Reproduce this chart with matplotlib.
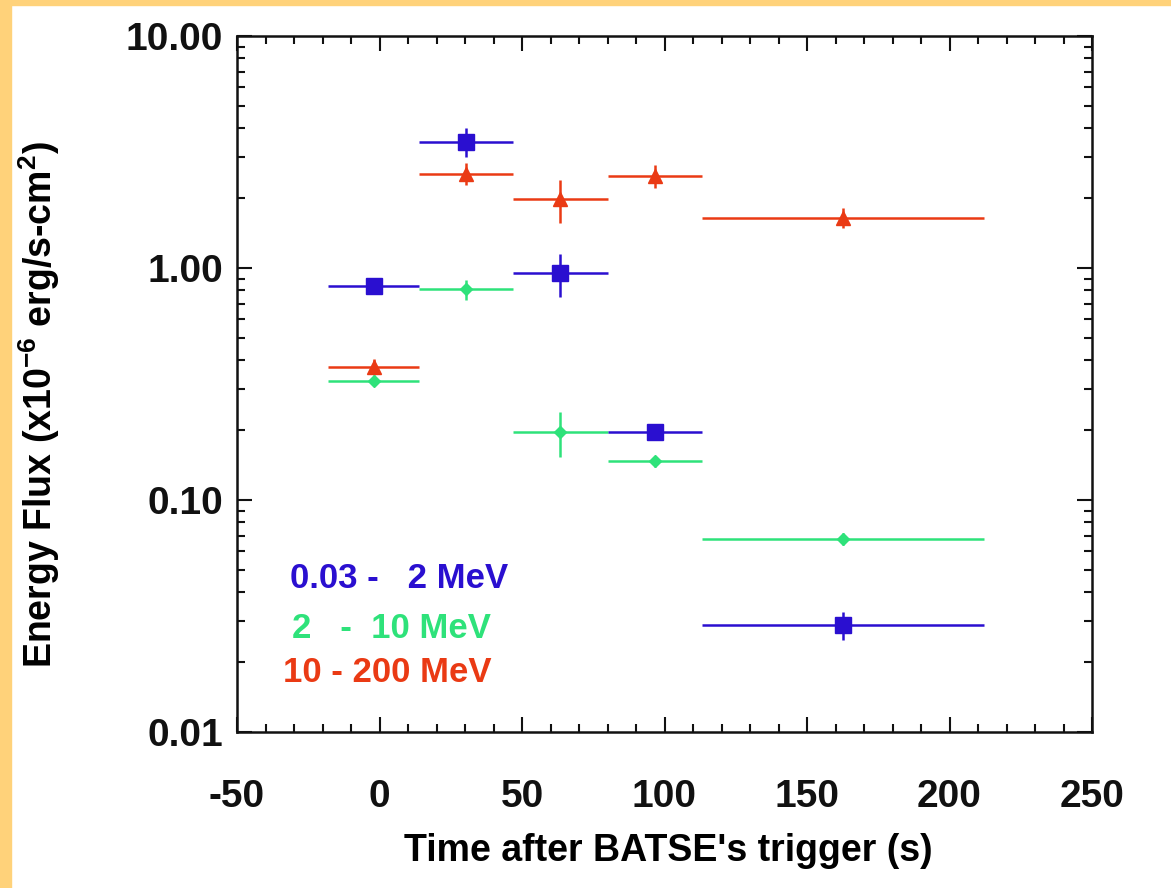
import matplotlib
matplotlib.use("Agg")
import matplotlib.pyplot as plt
from matplotlib.patches import Rectangle
from matplotlib.ticker import FixedLocator, LogLocator, MultipleLocator, FormatStrFormatter, NullFormatter

plt.rcParams['font.family'] = ['Liberation Sans', 'DejaVu Sans']
plt.rcParams['font.weight'] = 'bold'
plt.rcParams['axes.labelweight'] = 'bold'
plt.rcParams['mathtext.fontset'] = 'custom'
plt.rcParams['mathtext.rm'] = 'Liberation Sans:bold'
plt.rcParams['mathtext.it'] = 'Liberation Sans:bold'
plt.rcParams['axes.unicode_minus'] = False

# time bins (s after trigger)
t_lo = [-18, 14, 47, 80, 113]
t_hi = [14, 47, 80, 113, 212]

# energy flux, 1e-6 erg/s-cm^2
flux_low = [0.84, 3.5, 0.95, 0.196, 0.029]      # 0.03 - 2 MeV
err_low = [0.05, 0.5, 0.2, 0.012, 0.004]
flux_mid = [0.326, 0.81, 0.196, 0.147, 0.068]   # 2 - 10 MeV
err_mid = [0.015, 0.08, 0.043, 0.008, 0.004]
flux_high = [0.375, 2.55, 1.98, 2.5, 1.65]      # 10 - 200 MeV
err_high = [0.03, 0.28, 0.42, 0.28, 0.17]

labels = ["0.03 -   2 MeV", "2   -  10 MeV", "10 - 200 MeV"]
label_pos = [(-31.5, 0.046), (-30.8, 0.028), (-33.8, 0.018)]

c_blue = "#2a0fd0"
c_green = "#2ee27a"
c_red = "#ea3a14"

t_mid = [(a + b) / 2 for a, b in zip(t_lo, t_hi)]
t_err = [(b - a) / 2 for a, b in zip(t_lo, t_hi)]

fig = plt.figure(figsize=(11.71, 8.88), dpi=100)
ax = fig.add_axes([237 / 1171, 1 - 732 / 888, 855 / 1171, 696 / 888])

ax.errorbar(t_mid, flux_high, xerr=t_err, yerr=err_high, fmt="^", color=c_red,
            ms=10, elinewidth=1.8, capsize=0)
ax.errorbar(t_mid, flux_mid, xerr=t_err, yerr=err_mid, fmt="D", color=c_green,
            ms=6, elinewidth=1.8, capsize=0)
ax.errorbar(t_mid, flux_low, xerr=t_err, yerr=err_low, fmt="s", color=c_blue,
            ms=12, elinewidth=1.8, capsize=0)

for txt, (x, y), c in zip(labels, label_pos, [c_blue, c_green, c_red]):
    ax.text(x, y, txt, color=c, fontsize=25, ha="left", va="center")

ax.set_yscale("log")
ax.set_xlim(-50, 250)
ax.set_ylim(0.01, 10)
ax.xaxis.set_major_locator(MultipleLocator(50))
ax.xaxis.set_minor_locator(MultipleLocator(10))
ax.yaxis.set_major_locator(FixedLocator([0.01, 0.1, 1, 10]))
ax.yaxis.set_major_formatter(FormatStrFormatter("%.2f"))
ax.yaxis.set_minor_locator(LogLocator(base=10, subs=range(2, 10)))
ax.yaxis.set_minor_formatter(NullFormatter())

ax.tick_params(which="both", direction="in", top=True, right=True, width=1.5, colors="#111111")
ax.tick_params(which="major", length=11)
ax.tick_params(which="minor", length=6)
ax.tick_params(axis="x", which="major", labelsize=28, pad=34)
ax.tick_params(axis="y", which="major", labelsize=28, pad=10)
for s in ax.spines.values():
    s.set_linewidth(1.8)
    s.set_color("#111111")

ax.set_xlabel("Time after BATSE's trigger (s)", fontsize=27)
ax.xaxis.set_label_coords(0.504, -0.145)
ax.set_ylabel("Energy Flux (x10$^{-6}$ erg/s-cm$^{2}$)", fontsize=27)
ax.yaxis.set_label_coords(-0.205, 0.47)

# orange frame on the left and top edge
fig.patches.append(Rectangle((0, 0), 11 / 1171, 1, transform=fig.transFigure,
                             color="#ffd27a", zorder=5))
fig.patches.append(Rectangle((0, 1 - 5 / 888), 1, 5 / 888, transform=fig.transFigure,
                             color="#ffd27a", zorder=5))

plt.savefig("out.png", dpi=100)
